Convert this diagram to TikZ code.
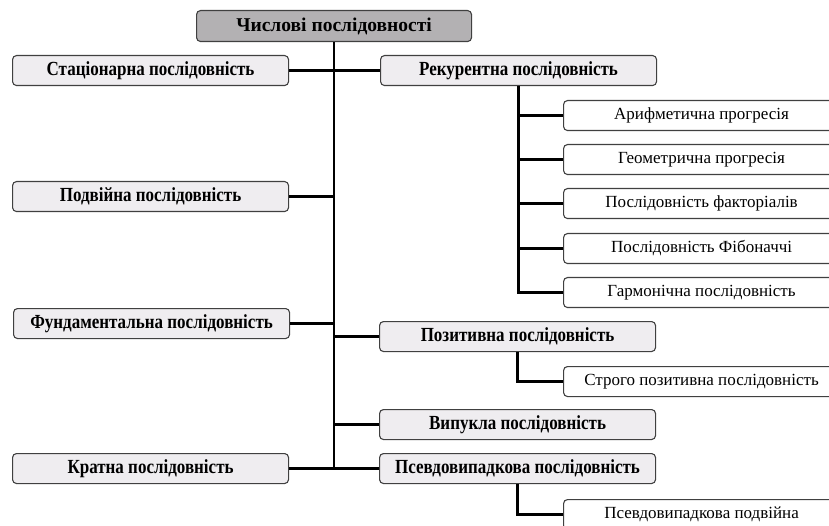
\documentclass[tikz,border=0pt]{standalone}
\usepackage{fontspec}
\setmainfont{Liberation Serif}
\newfontfamily\boldcond[FakeStretch=0.85]{Liberation Serif Bold}
\newfontfamily\boldtitle{Liberation Serif Bold}
\begin{document}
\begin{tikzpicture}[x=1pt,y=-1pt,
  box/.style={draw=black!75,line width=1.1pt,rounded corners=4pt,minimum width=276pt,minimum height=30pt,inner sep=0pt,anchor=north west},
  mainbox/.style={box,fill=boxfill,font=\boldcond\fontsize{20}{22}\selectfont},
  titlebox/.style={box,fill=titlefill,minimum width=275pt,minimum height=31pt,font=\boldtitle\fontsize{19.5}{22}\selectfont},
  subbox/.style={box,fill=white,font=\fontsize{17}{19}\selectfont},
  conn/.style={line width=2.6pt,black}]
\definecolor{boxfill}{HTML}{EFEDF0}
\definecolor{titlefill}{HTML}{B3B1B3}
\useasboundingbox (0,0) rectangle (829,526);
\clip (0,0) rectangle (829,526);
% boxes
\node[titlebox] (title) at (196,10) {Числові послідовності};
\node[mainbox] (stat) at (12,55) {Стаціонарна послідовність};
\node[mainbox] (rec) at (380,55) {Рекурентна послідовність};
\node[mainbox] (pod) at (12,181) {Подвійна послідовність};
\node[mainbox] (fund) at (13,308) {Фундаментальна послідовність};
\node[mainbox] (pos) at (379,321) {Позитивна послідовність};
\node[mainbox] (conv) at (379,409) {Випукла послідовність};
\node[mainbox] (krat) at (12,453) {Кратна послідовність};
\node[mainbox] (pseudo) at (379,453) {Псевдовипадкова послідовність};
\node[subbox] (ar) at (563,100) {Арифметична прогресія};
\node[subbox] (geo) at (563,144) {Геометрична прогресія};
\node[subbox] (fac) at (563,188) {Послідовність факторіалів};
\node[subbox] (fib) at (563,233) {Послідовність Фібоначчі};
\node[subbox] (harm) at (563,277) {Гармонічна послідовність};
\node[subbox] (spos) at (563,366) {Строго позитивна послідовність};
\node[subbox] (pdbl) at (563,499) {Псевдовипадкова подвійна};
% connectors
\begin{scope}[conn]
\draw (title.south) -- (title.south |- krat.east);
\draw (stat.east) -- (rec.west);
\draw (pod.east) -- (title.south |- pod.east);
\draw (fund.east) -- (title.south |- fund.east);
\draw (title.south |- pos.west) -- (pos.west);
\draw (title.south |- conv.west) -- (conv.west);
\draw (krat.east) -- (pseudo.west);
\draw (rec.south) |- (ar.west);
\draw (rec.south) |- (geo.west);
\draw (rec.south) |- (fac.west);
\draw (rec.south) |- (fib.west);
\draw (rec.south) |- (harm.west);
\draw (pos.south) |- (spos.west);
\draw (pseudo.south) |- (pdbl.west);
\end{scope}
\end{tikzpicture}
\end{document}
